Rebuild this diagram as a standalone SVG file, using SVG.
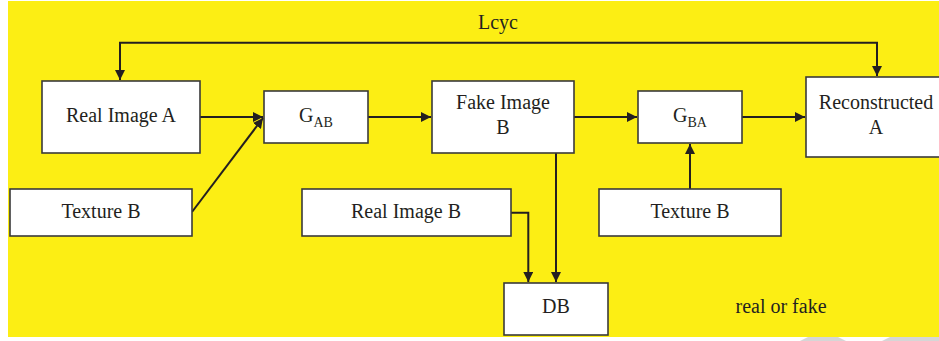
<svg xmlns="http://www.w3.org/2000/svg" width="939" height="341" viewBox="0 0 939 341">
<defs>
<style>
.box{fill:#fff;stroke:#3a3a3a;stroke-width:1.6}
.t{font-family:"Liberation Serif","Times New Roman",serif;font-size:20px;fill:#231f20;text-anchor:middle}
.sub{font-size:14px}
.c{fill:none;stroke:#231f20;stroke-width:2}
</style>
<marker id="ah" viewBox="0 0 10 10" refX="10" refY="5" markerWidth="10" markerHeight="10" markerUnits="userSpaceOnUse" orient="auto-start-reverse">
<path d="M0,0 L10,5 L0,10 Z" fill="#231f20"/>
</marker>
</defs>
<rect x="0" y="0" width="939" height="341" fill="#fff"/>
<rect x="8" y="1" width="931" height="336" fill="#fcee14"/>
<polygon points="800,341 808,337 838,337 846,341" fill="#d6d6d6"/>
<polygon points="882,341 890,337 939,337 939,341" fill="#d6d6d6"/>
<g id="connectors">
<polyline class="c" points="120,80 120,42.7 877,42.7 877,76" marker-start="url(#ah)" marker-end="url(#ah)" stroke-linejoin="miter"/>
<line class="c" x1="200" y1="117" x2="263" y2="117" marker-end="url(#ah)"/>
<line class="c" x1="192" y1="212" x2="263" y2="118" marker-end="url(#ah)"/>
<line class="c" x1="368" y1="117" x2="431" y2="117" marker-end="url(#ah)"/>
<line class="c" x1="574" y1="117" x2="637" y2="117" marker-end="url(#ah)"/>
<line class="c" x1="742" y1="117" x2="805" y2="117" marker-end="url(#ah)"/>
<line class="c" x1="690" y1="189" x2="690" y2="144" marker-end="url(#ah)"/>
<line class="c" x1="556" y1="153" x2="556" y2="282" marker-end="url(#ah)"/>
<polyline class="c" points="511,212.7 528.3,212.7 528.3,282" marker-end="url(#ah)"/>
</g>
<text class="t" x="498" y="29">Lcyc</text>
<g id="realA"><rect class="box" x="42" y="81" width="158" height="72"/><text class="t" x="121" y="122">Real Image A</text></g>
<g id="gab"><rect class="box" x="264" y="91" width="104" height="52"/><text class="t" x="316" y="122">G<tspan class="sub" dy="5">AB</tspan></text></g>
<g id="fakeB"><rect class="box" x="432" y="81" width="142" height="72"/><text class="t" x="503" y="109">Fake Image</text><text class="t" x="503" y="134">B</text></g>
<g id="gba"><rect class="box" x="638" y="91" width="104" height="52"/><text class="t" x="690" y="122">G<tspan class="sub" dy="5">BA</tspan></text></g>
<g id="recA"><rect class="box" x="806" y="77" width="140" height="80"/><text class="t" x="876" y="109">Reconstructed</text><text class="t" x="876" y="134">A</text></g>
<g id="texB1"><rect class="box" x="10" y="189" width="182" height="47"/><text class="t" x="101" y="218">Texture B</text></g>
<g id="realB"><rect class="box" x="302" y="189" width="209" height="47"/><text class="t" x="406" y="218">Real Image B</text></g>
<g id="texB2"><rect class="box" x="599" y="189" width="182" height="47"/><text class="t" x="690" y="218">Texture B</text></g>
<g id="db"><rect class="box" x="504" y="283" width="104" height="52"/><text class="t" x="556" y="313">DB</text></g>
<text class="t" x="781" y="313">real or fake</text>
</svg>
